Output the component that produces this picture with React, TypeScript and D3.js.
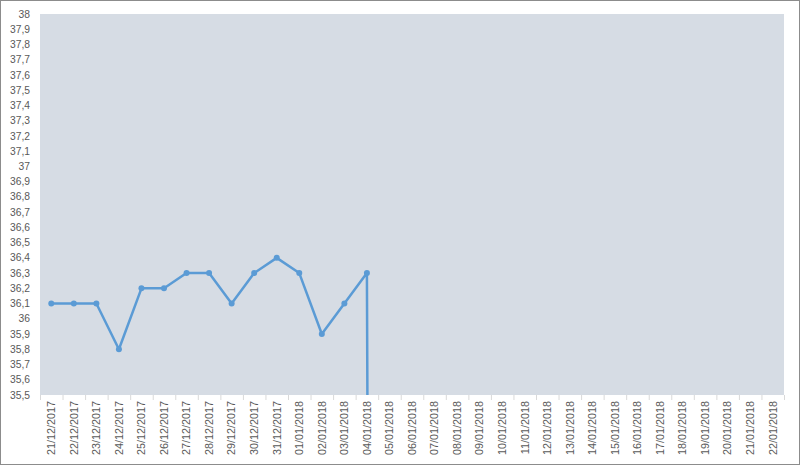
import React from "react";
import * as d3 from "d3";

// dates along the x axis
const dates = [
  "21/12/2017", "22/12/2017", "23/12/2017", "24/12/2017", "25/12/2017", "26/12/2017",
  "27/12/2017", "28/12/2017", "29/12/2017", "30/12/2017", "31/12/2017", "01/01/2018",
  "02/01/2018", "03/01/2018", "04/01/2018", "05/01/2018", "06/01/2018", "07/01/2018",
  "08/01/2018", "09/01/2018", "10/01/2018", "11/01/2018", "12/01/2018", "13/01/2018",
  "14/01/2018", "15/01/2018", "16/01/2018", "17/01/2018", "18/01/2018", "19/01/2018",
  "20/01/2018", "21/01/2018", "22/01/2018",
];
// temperature readings, blank day after the last one reads as 0
const temps: (number | null)[] = [
  36.1, 36.1, 36.1, 35.8, 36.2, 36.2, 36.3, 36.3, 36.1, 36.3, 36.4, 36.3, 35.9, 36.1, 36.3, 0,
];
const yTicks = d3.range(355, 381).map((v) => v / 10);

const W = 800;
const H = 466;
const m = { left: 40, right: 16, top: 14, bottom: 71 };

const App = () => {
  const x = d3.scaleBand().domain(dates).range([m.left, W - m.right]);
  const y = d3.scaleLinear().domain([35.5, 38]).range([H - m.bottom, m.top]);
  const pts = dates.map((d, i) => ({ d, v: temps[i] ?? null }));
  const line = d3
    .line<{ d: string; v: number | null }>()
    .defined((p) => p.v !== null)
    .x((p) => x(p.d)! + x.bandwidth() / 2)
    .y((p) => y(p.v as number));
  const fmt = (v: number) => String(Math.round(v * 10) / 10).replace(".", ",");
  const x0 = m.left;
  const x1 = W - m.right;
  const yb = H - m.bottom;

  return (
    <div style={{ position: "fixed", left: 0, top: 0 }}>
      <svg width={W} height={H} style={{ display: "block", fontFamily: "'Liberation Sans', Arial, sans-serif" }}>
        <rect x={0.5} y={0.5} width={W - 1} height={H - 2} fill="#fff" stroke="#8c8c8c" />
        <defs>
          <clipPath id="plot">
            <rect x={x0} y={m.top} width={x1 - x0} height={yb - m.top} />
          </clipPath>
        </defs>
        <rect x={x0} y={m.top} width={x1 - x0} height={yb - m.top} fill="#D6DCE4" />
        {yTicks.map((t) => (
          <text key={t} x={30} y={y(t)} dy="0.35em" textAnchor="end" fontSize={10.3} fill="#595959">
            {fmt(t)}
          </text>
        ))}
        {dates.map((d, i) => (
          <line key={"tk" + i} x1={x(d)! + 0.5} x2={x(d)! + 0.5} y1={yb} y2={yb + 5} stroke="#d9d9d9" />
        ))}
        <line x1={x1 + 0.5} x2={x1 + 0.5} y1={yb} y2={yb + 5} stroke="#d9d9d9" />
        {dates.map((d) => (
          <text
            key={d}
            transform={`translate(${x(d)! + x.bandwidth() / 2},${yb + 6}) rotate(-90)`}
            dy="0.35em"
            textAnchor="end"
            fontSize={10.8}
            fill="#595959"
          >
            {d}
          </text>
        ))}
        <g clipPath="url(#plot)">
          <path d={line(pts) ?? ""} fill="none" stroke="#5B9BD5" strokeWidth={2.5} strokeLinejoin="round" />
          {pts
            .filter((p) => p.v !== null && p.v >= 35.5)
            .map((p) => (
              <circle key={p.d} cx={x(p.d)! + x.bandwidth() / 2} cy={y(p.v as number)} r={3} fill="#5B9BD5" />
            ))}
        </g>
      </svg>
    </div>
  );
};

export default App;
